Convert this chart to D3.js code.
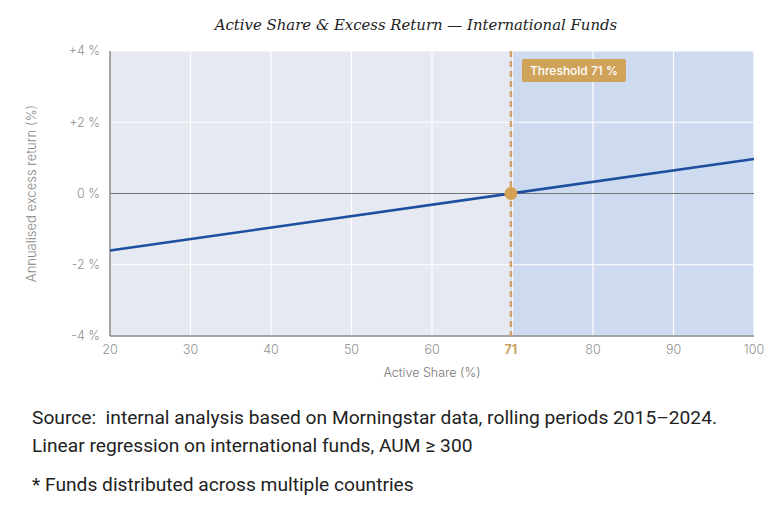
<!DOCTYPE html>
<html>
<head>
<meta charset="utf-8">
<script src="https://cdn.jsdelivr.net/npm/d3@7/dist/d3.min.js"></script>
<style>
  body { margin: 0; background: #fff; }
  svg { display: block; }
</style>
</head>
<body>
<div class="chartContainer"></div>
<script>
// Regression line (Active Share -> annualised excess return, %)
const activeShare = [20, 100];
const excessReturn = [-1.6, 0.97];
// Axis ticks
const xTicks = [20, 30, 40, 50, 60, 80, 90, 100];
const xGrid = [20, 30, 40, 50, 60, 70, 80, 90, 100];
const yTicks = [4, 2, 0, -2, -4];
const thresholdLabel = "71";

const width = 781, height = 514;
const margin = { top: 51, right: 27, bottom: 178, left: 110 };

const svg = d3.select(".chartContainer")
  .append("svg")
  .attr("width", width)
  .attr("height", height);

const x = d3.scaleLinear().domain([20, 100]).range([margin.left, width - margin.right]);
const y = d3.scaleLinear().domain([-4, 4]).range([height - margin.bottom, margin.top]);

// threshold marker sits where the regression line crosses zero
const slope = (excessReturn[1] - excessReturn[0]) / (activeShare[1] - activeShare[0]);
const threshold = activeShare[0] - excessReturn[0] / slope;

// Background regions
svg.append("rect")
  .attr("x", x(20)).attr("y", y(4))
  .attr("width", x(threshold) - x(20)).attr("height", y(-4) - y(4))
  .attr("fill", "#e6e9f1");
svg.append("rect")
  .attr("x", x(threshold)).attr("y", y(4))
  .attr("width", x(100) - x(threshold)).attr("height", y(-4) - y(4))
  .attr("fill", "#cedaef");

// Grid
svg.append("g").selectAll("line")
  .data(xGrid).enter().append("line")
  .attr("x1", d => x(d)).attr("x2", d => x(d))
  .attr("y1", y(4)).attr("y2", y(-4))
  .attr("stroke", "#fff").attr("stroke-width", 1.2);
svg.append("g").selectAll("line")
  .data(yTicks).enter().append("line")
  .attr("x1", x(20)).attr("x2", x(100))
  .attr("y1", d => y(d)).attr("y2", d => y(d))
  .attr("stroke", d => d === 0 ? "#666" : "#fff")
  .attr("stroke-width", d => d === 0 ? 0.9 : 1.2);

// Axes lines
svg.append("line")
  .attr("x1", x(20)).attr("x2", x(20)).attr("y1", y(4)).attr("y2", y(-4))
  .attr("stroke", "#888").attr("stroke-width", 1.5);
svg.append("line")
  .attr("x1", x(20)).attr("x2", x(100)).attr("y1", y(-4)).attr("y2", y(-4))
  .attr("stroke", "#888").attr("stroke-width", 1.5);

// Tick labels
svg.append("g").selectAll("text")
  .data(yTicks).enter().append("text")
  .attr("x", x(20) - 10).attr("y", d => y(d))
  .attr("dy", "0.35em")
  .attr("text-anchor", "end")
  .attr("font-family", "Inter, Roboto, sans-serif")
  .attr("font-size", 12.5)
  .attr("font-weight", 300)
  .attr("fill", "#8f8f8f")
  .text(d => (d > 0 ? "+" : d < 0 ? "-" : "") + Math.abs(d) + " %");

svg.append("g").selectAll("text")
  .data(xTicks).enter().append("text")
  .attr("x", d => x(d)).attr("y", y(-4) + 18)
  .attr("text-anchor", "middle")
  .attr("font-family", "Inter, Roboto, sans-serif")
  .attr("font-size", 12.5)
  .attr("font-weight", 300)
  .attr("fill", "#8f8f8f")
  .text(d => d);
svg.append("text")
  .attr("x", x(threshold)).attr("y", y(-4) + 18)
  .attr("text-anchor", "middle")
  .attr("font-family", "Inter, Roboto, sans-serif")
  .attr("font-size", 12.5)
  .attr("font-weight", "bold")
  .attr("fill", "#c9a063")
  .text(thresholdLabel);

// Axis titles
svg.append("text")
  .attr("x", (x(20) + x(100)) / 2).attr("y", y(-4) + 41)
  .attr("text-anchor", "middle")
  .attr("font-family", "Inter, Roboto, sans-serif")
  .attr("font-size", 12.5)
  .attr("font-weight", 300)
  .attr("fill", "#777")
  .text("Active Share (%)");
svg.append("text")
  .attr("transform", `translate(36,${(y(4) + y(-4)) / 2}) rotate(-90)`)
  .attr("text-anchor", "middle")
  .attr("font-family", "Inter, Roboto, sans-serif")
  .attr("font-size", 13)
  .attr("font-weight", 300)
  .attr("fill", "#888")
  .text("Annualised excess return (%)");

// Title
svg.append("text")
  .attr("x", 416).attr("y", 30)
  .attr("text-anchor", "middle")
  .attr("font-family", "'DejaVu Serif', Georgia, serif")
  .attr("font-style", "italic")
  .attr("font-size", 14.9)
  .attr("fill", "#222")
  .text("Active Share & Excess Return \u2014 International Funds");

// Threshold line
svg.append("line")
  .attr("x1", x(threshold)).attr("x2", x(threshold))
  .attr("y1", y(4)).attr("y2", y(-4))
  .attr("stroke", "#cfa26a").attr("stroke-width", 2.5)
  .attr("stroke-dasharray", "6,4");

// Regression line
const line = d3.line().x(d => x(d[0])).y(d => y(d[1]));
svg.append("path")
  .datum(d3.zip(activeShare, excessReturn))
  .attr("d", line)
  .attr("fill", "none")
  .attr("stroke", "#1c4f9e")
  .attr("stroke-width", 2.6);

// Threshold dot
svg.append("circle")
  .attr("cx", x(threshold)).attr("cy", y(0)).attr("r", 6.5)
  .attr("fill", "#d4a255");

// Threshold badge
const badge = svg.append("g").attr("transform", `translate(${x(threshold) + 11},${y(4) + 8})`);
badge.append("rect")
  .attr("width", 104).attr("height", 23).attr("rx", 2)
  .attr("fill", "#d0a35b");
badge.append("text")
  .attr("x", 52).attr("y", 12)
  .attr("dy", "0.35em")
  .attr("text-anchor", "middle")
  .attr("font-family", "Inter, Roboto, sans-serif")
  .attr("font-size", 12)
  .attr("font-weight", 500)
  .attr("fill", "#fff")
  .text(`Threshold ${thresholdLabel} %`);

// Footnotes
const notes = [
  { t: "Source:  internal analysis based on Morningstar data, rolling periods 2015\u20132024.", y: 424 },
  { t: "Linear regression on international funds, AUM \u2265 300", y: 452 },
  { t: "* Funds distributed across multiple countries", y: 491 }
];
svg.append("g").selectAll("text")
  .data(notes).enter().append("text")
  .attr("x", 32).attr("y", d => d.y)
  .attr("font-family", "Roboto, sans-serif")
  .attr("font-size", 19.2)
  .attr("fill", "#222")
  .attr("xml:space", "preserve")
  .style("white-space", "pre")
  .text(d => d.t);
</script>
</body>
</html>
